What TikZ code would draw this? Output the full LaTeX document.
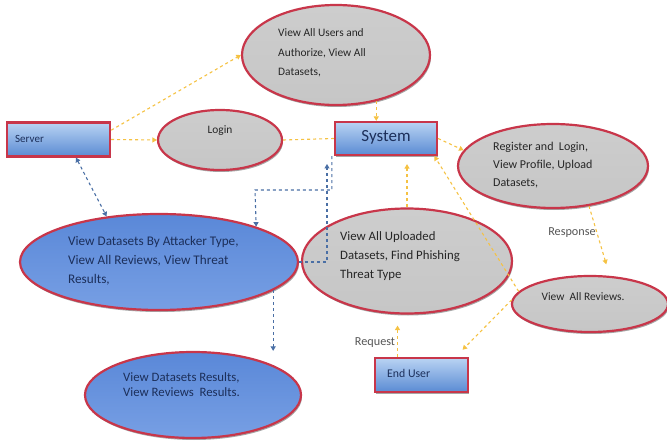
\documentclass[tikz,border=0pt]{standalone}
\usepackage{fontspec}
\setmainfont{Carlito}
\usetikzlibrary{shapes.geometric,arrows.meta,shadows}
\definecolor{rimred}{HTML}{C8364A}
\definecolor{gtop}{HTML}{CDCDCD}
\definecolor{gmid}{HTML}{959595}
\definecolor{gbot}{HTML}{C6C6C6}
\definecolor{btop}{HTML}{5A88D8}
\definecolor{bmid}{HTML}{3B68C2}
\definecolor{bbot}{HTML}{779FE4}
\definecolor{rtop}{HTML}{B9D3F3}
\definecolor{rmid}{HTML}{7FA8E2}
\definecolor{rbot}{HTML}{5A8BD3}
\definecolor{ylw}{HTML}{F5C243}
\definecolor{bdash}{HTML}{4A6FA5}
\definecolor{gtext}{HTML}{262626}
\definecolor{btext}{HTML}{1C2F5A}
\definecolor{ltext}{HTML}{555555}
\begin{document}
\begin{tikzpicture}[x=1pt,y=-1pt,
  shad/.style={drop shadow={shadow xshift=1pt,shadow yshift=-2pt,opacity=0.35,fill=black}},
  gov/.style={ellipse,draw=rimred,line width=2.2pt,inner sep=0pt,top color=gtop,middle color=gmid,bottom color=gbot,shad},
  bov/.style={ellipse,draw=rimred,line width=2.2pt,inner sep=0pt,top color=btop,middle color=bmid,bottom color=bbot,shad},
  bbox/.style={rectangle,draw=rimred,line width=2.2pt,inner sep=0pt,top color=rtop,middle color=rmid,bottom color=rbot,shad},
  txt/.style={anchor=west,align=left,inner sep=0pt,font=\fontsize{11.4}{19.5}\selectfont,text=gtext},
  btxt/.style={txt,text=btext},
  lbl/.style={inner sep=0pt,font=\fontsize{12.2}{14}\selectfont,text=ltext},
  yarr/.style={draw=ylw,dashed,line width=1.1pt,-{Triangle[width=5pt,length=4.5pt]}},
  yline/.style={draw=ylw,dashed,line width=1.1pt},
  barr/.style={draw=bdash,dashed,line width=1.1pt,-{Triangle[width=5pt,length=4.5pt]}},
  bdarr/.style={draw=bdash,dashed,line width=1.1pt,{Triangle[width=5pt,length=4.5pt]}-{Triangle[width=5pt,length=4.5pt]}},
]
\useasboundingbox (0,0) rectangle (667,441);
% shapes
\node[bbox,minimum width=103pt,minimum height=34pt] (server) at (58.5,139.5) {};
\node[gov,minimum width=124pt,minimum height=60pt] (login) at (220,140) {};
\node[gov,minimum width=188pt,minimum height=100pt] (top) at (336,55) {};
\node[bbox,minimum width=102pt,minimum height=33pt] (system) at (386,138.5) {};
\node[gov,minimum width=190pt,minimum height=84pt] (reg) at (553,166) {};
\node[bov,minimum width=278pt,minimum height=96pt] (bl) at (159,262) {};
\node[gov,minimum width=210pt,minimum height=105pt] (up) at (407,261) {};
\node[gov,minimum width=156pt,minimum height=56pt] (rev) at (590,304) {};
\node[bbox,minimum width=93pt,minimum height=34pt] (eu) at (421.5,375) {};
\node[bov,minimum width=216pt,minimum height=86pt] (bl2) at (193,395) {};
% texts
\node[btxt,font=\fontsize{11}{12}\selectfont] (servert) at (15,139) {Server};
\node[txt,anchor=center,font=\fontsize{11.4}{12}\selectfont] (logint) at (220,131) {Login};
\node[txt] (topt) at (278,53) {View All Users and\\Authorize, View All\\Datasets,};
\node[btxt,anchor=center,font=\fontsize{17}{19}\selectfont] (systemt) at (386,137) {System};
\node[txt,font=\fontsize{12}{18}\selectfont] (regt) at (493,165) {Register and~ Login,\\View Profile, Upload\\Datasets,};
\node[btxt,font=\fontsize{13.2}{19}\selectfont] (blt) at (68,261) {View Datasets By Attacker Type,\\View All Reviews, View Threat\\Results,};
\node[txt,font=\fontsize{12.8}{19}\selectfont] (upt) at (340,256) {View All Uploaded\\Datasets, Find Phishing\\Threat Type};
\node[txt,anchor=center] (revt) at (583,297) {View~ All Reviews.};
\node[btxt,font=\fontsize{11.8}{13}\selectfont] (eut) at (387,373) {End User};
\node[btxt,font=\fontsize{12.8}{15}\selectfont] (bl2t) at (123,384.5) {View Datasets Results,\\View Reviews~ Results.};
\node[lbl] (resp) at (572,233) {Response};
\node[lbl] (reqt) at (375,343) {Request};
% waypoints
\coordinate (k1) at (255,190);
\coordinate (k2) at (327,164);
% connectors
\draw[yarr] (server.east) -- (login.west);
\draw[yarr] (server.10) -- (top.west);
\draw[yarr] (top.-49) -- (top.-49 |- system.north);
\draw[yline] (login.east) -- (system.west);
\draw[yarr] (system.east) -- (reg.170);
\draw[yarr,shorten >=8pt] (up.north) -- (up.north |- system.south);
\draw[yarr] (rev.170) -- (system.-20);
\draw[yarr,shorten >=10pt] (rev.177) -- (eu.28);
\draw[yarr,shorten >=12pt] (reg.-48) -- (rev.55);
\draw[yarr,shorten >=11pt] ([xshift=-24pt]eu.north) -- ([xshift=-24pt]eu.north |- up.south);
\draw[bdarr] (server.-46) -- (bl.139);
\draw[barr] ([xshift=-2pt]system.south west) |- (k1) -- (bl.20);
\draw[barr] (bl.east) -| (k2);
\draw[barr] (bl.-14) -- (bl.-14 |- bl2.north);
\end{tikzpicture}
\end{document}
